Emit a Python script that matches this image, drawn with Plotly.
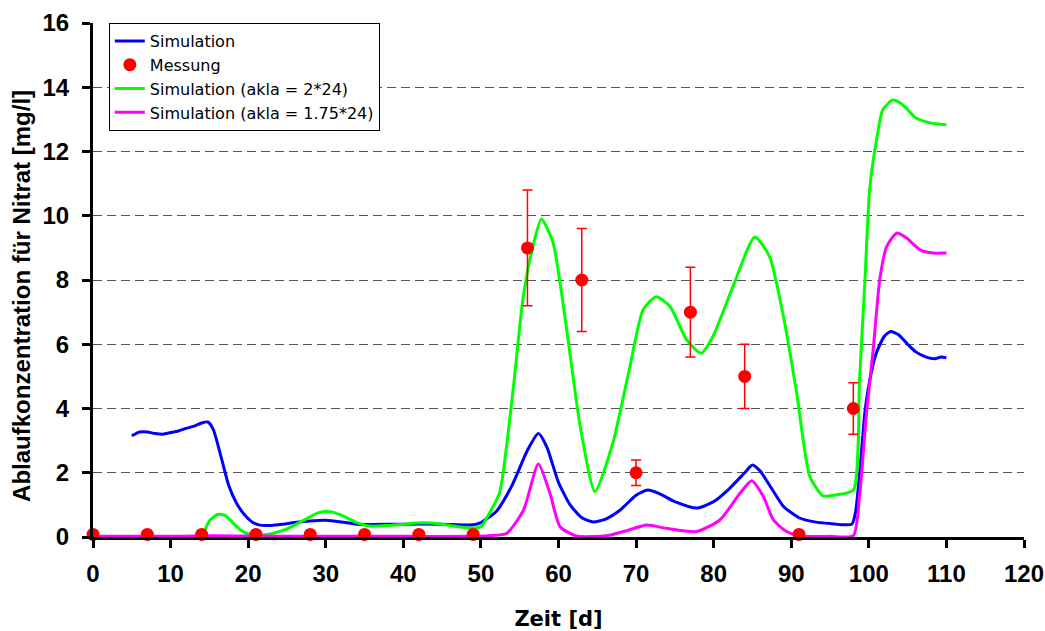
import plotly.graph_objects as go

# Simulation (blue)
sim_x = [5, 6, 7, 8, 9, 10, 11, 12, 13, 14, 14.8, 15.5, 16.5, 17.5, 18.5, 19.5, 20.5, 21.5, 23, 24.5, 26, 28, 30, 32, 34, 36, 40, 45, 49,
         50, 52, 54, 56, 57.4, 58.5, 60, 61.5, 63, 64.5, 66, 68, 70, 71.5, 73, 75, 77.8, 80, 82, 84, 85, 86, 87.5, 89, 91, 93, 95,
         97.8, 98.3, 99, 99.5, 100.3, 101, 102, 102.8, 103.8, 105, 106, 107.4, 108.5, 109.3, 110]
sim_y = [3.15, 3.27, 3.27, 3.22, 3.2, 3.25, 3.3, 3.38, 3.45, 3.55, 3.58, 3.35, 2.5, 1.6, 1.05, 0.7, 0.47, 0.37, 0.36, 0.4, 0.45, 0.5, 0.52, 0.47, 0.4, 0.39, 0.4, 0.4, 0.38,
         0.45, 0.8, 1.6, 2.7, 3.22, 2.8, 1.7, 1.0, 0.6, 0.47, 0.55, 0.85, 1.3, 1.46, 1.35, 1.1, 0.9, 1.1, 1.5, 2.0, 2.24, 2.05, 1.5, 0.95, 0.6, 0.47, 0.42,
         0.4, 0.8, 2.5, 3.9, 5.1, 5.75, 6.25, 6.4, 6.3, 6.0, 5.77, 5.6, 5.55, 5.6, 5.58]

# Messung (red)
mess_x = [0, 7, 14, 21, 28, 35, 42, 49, 56, 63, 70, 77, 84, 91, 98]
mess_y = [0.08, 0.08, 0.08, 0.08, 0.08, 0.08, 0.08, 0.08, 9.0, 8.0, 2.0, 7.0, 5.0, 0.08, 4.0]
mess_err = [0, 0, 0, 0, 0, 0, 0, 0, 1.8, 1.6, 0.4, 1.4, 1.0, 0, 0.8]

# Simulation (akla = 2*24) (green)
g_x = [14.2, 15, 16, 17, 18, 19, 20, 21.5, 23, 25, 27, 29, 30.5, 32, 34, 35.7, 38, 40, 42.5, 45, 47, 49, 50,
       51, 52.4, 54.1, 55.4, 56.5, 57.8, 59.3, 61, 62.8, 64.7, 67, 69.2, 70.9, 72.6, 74.4, 76.5, 78.4, 79.9, 82.5, 85.3, 87.2, 89, 90.7,
       92.4, 94.1, 95.8, 98.0, 98.8, 99.5, 100.1, 101.0, 101.8, 103.1, 104.4, 106.1, 107.9, 110]
g_y = [0.08, 0.5, 0.7, 0.68, 0.45, 0.22, 0.1, 0.06, 0.1, 0.25, 0.5, 0.75, 0.79, 0.68, 0.45, 0.34, 0.36, 0.4, 0.44, 0.4, 0.32, 0.28, 0.32,
       0.7, 1.37, 4.48, 7.38, 8.84, 9.9, 9.16, 6.55, 3.44, 1.41, 2.92, 5.3, 7.07, 7.48, 7.17, 6.14, 5.72, 6.24, 7.8, 9.34, 8.73, 6.86, 4.48,
       1.88, 1.28, 1.31, 1.46, 4.89, 8.0, 10.8, 12.37, 13.3, 13.6, 13.45, 13.04, 12.89, 12.83]

# Simulation (akla = 1.75*24) (magenta)
m_x = [0, 10, 13, 16, 20, 30, 40, 49, 51, 53.3, 55.5, 57.4, 58.9, 60.2, 62.3, 66.2, 68.5, 71.4, 73.9, 77.8, 80.8, 83.4, 84.9, 86.4,
       87.7, 89.4, 91.1, 95, 98.0, 98.8, 99.7, 100.6, 101.4, 102.3, 103.6, 104.9, 106.6, 108.3, 110]
m_y = [0.02, 0.02, 0.03, 0.04, 0.03, 0.02, 0.02, 0.02, 0.04, 0.11, 0.84, 2.27, 1.36, 0.32, 0.03, 0.04, 0.18, 0.37, 0.27, 0.17, 0.53, 1.36, 1.75, 1.26,
       0.53, 0.17, 0.03, 0.02, 0.04, 1.26, 3.86, 5.93, 8.0, 9.04, 9.46, 9.3, 8.94, 8.84, 8.84]

FONT = "Liberation Sans, Arial, sans-serif"
WIDE = "DejaVu Sans, Liberation Sans, sans-serif"
NARROW = "Liberation Sans Narrow, Arial Narrow, Liberation Sans, sans-serif"

fig = go.Figure()
fig.add_trace(go.Scatter(x=sim_x, y=sim_y, mode="lines", name="Simulation",
                         line=dict(color="#0000ff", width=3, shape="spline", smoothing=0.6), legendrank=1))
fig.add_trace(go.Scatter(x=g_x, y=g_y, mode="lines", name="Simulation (akla = 2*24)",
                         line=dict(color="#00ff00", width=3, shape="spline", smoothing=0.6), legendrank=3))
fig.add_trace(go.Scatter(x=m_x, y=m_y, mode="lines", name="Simulation (akla = 1.75*24)",
                         line=dict(color="#ff00ff", width=3, shape="spline", smoothing=0.6), legendrank=4))
fig.add_trace(go.Scatter(x=mess_x, y=mess_y, mode="markers", name="Messung",
                         marker=dict(color="#ff0000", size=13),
                         error_y=dict(type="data", array=mess_err, visible=True, color="#ff0000", thickness=1.5, width=5),
                         cliponaxis=False, legendrank=2))

fig.add_annotation(text="<b>Ablaufkonzentration für Nitrat [mg/l]</b>", textangle=-90,
                   xref="paper", yref="paper", x=-0.0763, y=0.469,
                   xanchor="center", yanchor="middle", showarrow=False,
                   font=dict(size=24, family=NARROW, color="black"))

fig.update_layout(
    width=1045, height=631,
    margin=dict(l=93, r=21, t=23, b=94),
    paper_bgcolor="white", plot_bgcolor="white",
    font=dict(family=FONT, color="black"),
    showlegend=True,
    legend=dict(x=0.017, y=1.0, xanchor="left", yanchor="top",
                bordercolor="black", borderwidth=1, bgcolor="white",
                font=dict(size=16, family=WIDE), tracegroupgap=0,
                itemwidth=30),
    xaxis=dict(range=[0, 120], tickmode="linear", tick0=0, dtick=10,
               showline=True, linecolor="black", linewidth=3, automargin=False,
               ticks="outside", ticklen=8, tickwidth=3, tickcolor="black",
               showgrid=False, zeroline=False, ticklabelstandoff=5,
               tickfont=dict(size=24, family=FONT, weight="bold"),
               title=dict(text="<b>Zeit [d]</b>", font=dict(size=21, family=WIDE), standoff=26)),
    yaxis=dict(range=[0, 16], tickmode="linear", tick0=0, dtick=2,
               showline=True, linecolor="black", linewidth=3, automargin=False,
               ticks="outside", ticklen=8, tickwidth=3, tickcolor="black",
               showgrid=True, gridcolor="#555555", griddash="9px,5px", gridwidth=1,
               zeroline=False, ticklabelstandoff=8,
               tickfont=dict(size=24, family=FONT, weight="bold")),
)

fig.write_html("out.html")
